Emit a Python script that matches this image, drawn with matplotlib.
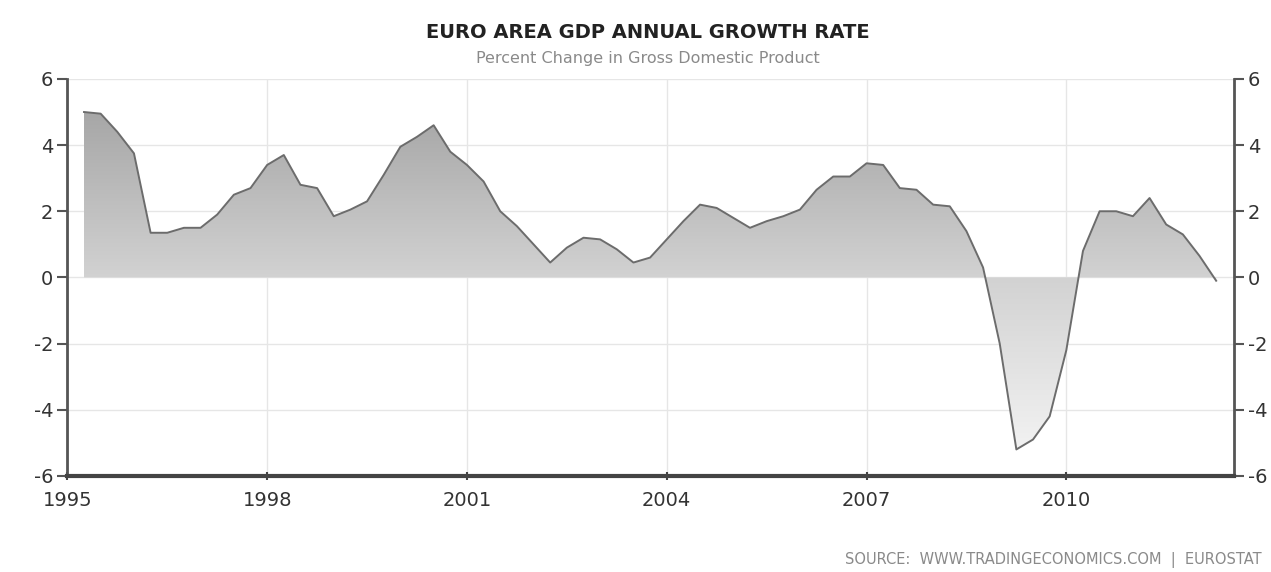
import numpy as np
import matplotlib.pyplot as plt
from matplotlib.colors import LinearSegmentedColormap

plt.rcParams['axes.unicode_minus'] = False

# quarterly points, euro area GDP y/y growth (%)
years = np.arange(1995.25, 2012.26, 0.25)
growth = [5.0, 4.95, 4.4,
          3.75, 1.35, 1.35, 1.5,
          1.5, 1.9, 2.5, 2.7,
          3.4, 3.7, 2.8, 2.7,
          1.85, 2.05, 2.3, 3.1,
          3.95, 4.25, 4.6, 3.8,
          3.4, 2.9, 2.0, 1.55,
          1.0, 0.45, 0.9, 1.2,
          1.15, 0.85, 0.45, 0.6,
          1.15, 1.7, 2.2, 2.1,
          1.8, 1.5, 1.7, 1.85,
          2.05, 2.65, 3.05, 3.05,
          3.45, 3.4, 2.7, 2.65,
          2.2, 2.15, 1.4, 0.3,
          -2.0, -5.2, -4.9, -4.2,
          -2.2, 0.8, 2.0, 2.0,
          1.85, 2.4, 1.6, 1.3,
          0.65, -0.1]

xticks = [1995, 1998, 2001, 2004, 2007, 2010]
yticks = [-6, -4, -2, 0, 2, 4, 6]

fig = plt.figure(figsize=(12.71, 5.72), dpi=100)
ax = fig.add_axes([0.053, 0.168, 0.918, 0.694])

# gradient fill, clipped to the area under the curve
poly = ax.fill_between(years, growth, 0, color='none', lw=0)
cmap = LinearSegmentedColormap.from_list('g', ['#9e9e9e', '#d2d2d2', '#f7f7f7'])
grad = np.linspace(0, 1, 256).reshape(-1, 1)
img = ax.imshow(grad, extent=[1994, 2014, -6, 6], aspect='auto', cmap=cmap,
                origin='upper', zorder=1)
img.set_clip_path(poly.get_paths()[0], ax.transData)

ax.plot(years, growth, color='#6c6c6c', lw=1.4, zorder=3)

ax.set_xlim(1995, 2012.52)
ax.set_ylim(-6, 6)
ax.set_xticks(xticks)
ax.set_yticks(yticks)
ax.grid(color='#e6e6e6', lw=1.0, zorder=0)
ax.set_axisbelow(True)

ax.spines['top'].set_visible(False)
for s in ['left', 'right']:
    ax.spines[s].set_color('#555555')
    ax.spines[s].set_linewidth(2)
ax.spines['bottom'].set_color('#444444')
ax.spines['bottom'].set_linewidth(3)

ax.tick_params(axis='y', left=True, right=True, labelleft=True, labelright=True,
               length=7, width=1.5, color='#555555', labelsize=14,
               labelcolor='#333333', pad=3)
ax.tick_params(axis='x', direction='inout', length=6, width=1.5, color='#444444',
               labelsize=14, labelcolor='#333333', pad=8)

fig.text(0.51, 1 - 32/572, 'EURO AREA GDP ANNUAL GROWTH RATE', ha='center', va='center',
         fontsize=14, fontweight='bold', color='#222222')
fig.text(0.51, 1 - 58/572, 'Percent Change in Gross Domestic Product', ha='center', va='center',
         fontsize=11.5, color='#8a8a8a')
fig.text(0.993, 1 - 560/572, 'SOURCE:  WWW.TRADINGECONOMICS.COM  |  EUROSTAT', ha='right',
         va='center', fontsize=10.5, color='#8a8a8a')

fig.savefig('out.png', dpi=100)
